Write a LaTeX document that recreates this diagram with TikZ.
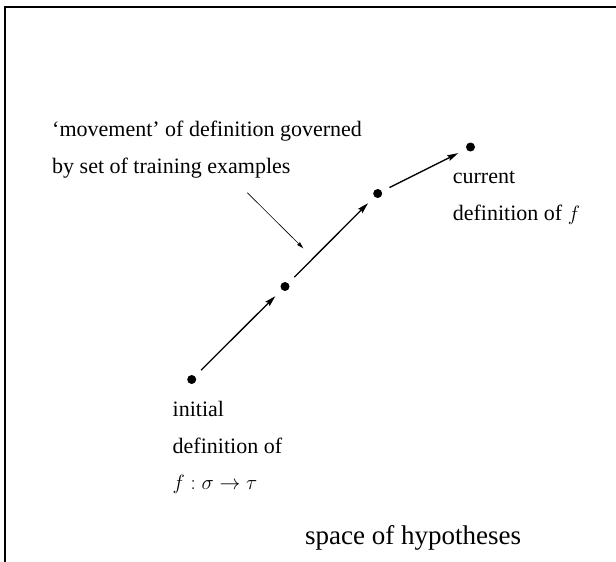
\documentclass[tikz,border=0pt]{standalone}
\usepackage{fontspec}
\setmainfont{Liberation Serif}
\usetikzlibrary{arrows.meta}
\begin{document}
\begin{tikzpicture}[x=1pt,y=-1pt,
  dotnode/.style={circle,fill=black,inner sep=0pt,minimum size=9pt},
  txt/.style={anchor=base west,inner sep=0pt,font=\fontsize{22}{36}\selectfont},
  bigtxt/.style={anchor=base west,inner sep=0pt,font=\fontsize{27}{36}\selectfont},
  movearrow/.style={line width=1.3pt,-{Stealth[length=11pt,width=6pt,inset=1.5pt]},shorten <=8.5pt,shorten >=9pt},
  pointer/.style={line width=0.6pt,-{Stealth[length=7pt,width=4pt,inset=1pt]}}]
\useasboundingbox (0,0) rectangle (616,562);
\draw[line width=1.5pt] (5,562) -- (5,7) -- (616,7);
% dots
\node[dotnode] (d0) at (191.7,379.5) {};
\node[dotnode] (d1) at (285,286.5) {};
\node[dotnode] (d2) at (377.7,193.5) {};
\node[dotnode] (d3) at (470.5,147) {};
\draw[movearrow] (d0) -- (d1);
\draw[movearrow] (d1) -- (d2);
\draw[movearrow] (d2) -- (d3);
% pointer
\coordinate (pa) at (247.3,192.7);
\coordinate (pb) at (303.3,248.3);
\draw[pointer] (pa) -- (pb);
% texts
\node[txt] (m1) at (52,136.7) {`movement' of definition governed};
\node[txt] (m2) at (52,173.3) {by set of training examples};
\node[txt] (c1) at (452.7,183.3) {current};
\node[txt] (c2) at (452.7,220) {definition of $f$};
\node[txt] (i1) at (172.5,416.7) {initial};
\node[txt] (i2) at (172.5,453) {definition of};
\node[txt] (i3) at (172.5,489.5) {$f:\sigma\rightarrow\tau$};
\node[bigtxt] (sp) at (305,544.3) {space of hypotheses};
\end{tikzpicture}
\end{document}
